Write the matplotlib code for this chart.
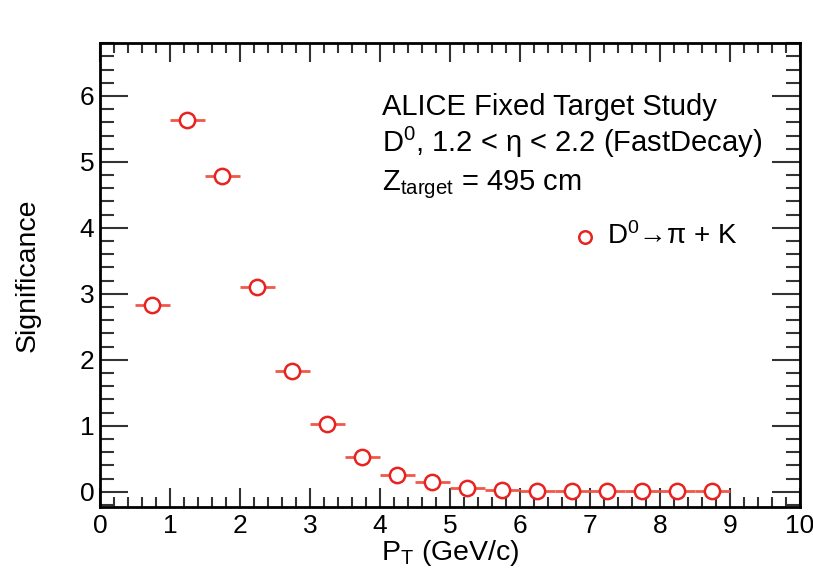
import numpy as np
import matplotlib
matplotlib.use('Agg')
import matplotlib.pyplot as plt
from matplotlib.ticker import MultipleLocator

plt.rcParams['font.family'] = ['Liberation Sans', 'DejaVu Sans']
plt.rcParams['mathtext.fontset'] = 'custom'
plt.rcParams['mathtext.rm'] = 'Liberation Sans'
plt.rcParams['mathtext.it'] = 'Liberation Sans'

# pT bin centres and half widths
pt = [0.75, 1.25, 1.75, 2.25, 2.75, 3.25, 3.75, 4.25, 4.75,
      5.25, 5.75, 6.25, 6.75, 7.25, 7.75, 8.25, 8.75]
pt_err = [0.25] * len(pt)
# significance per bin
signif = [2.83, 5.64, 4.79, 3.11, 1.83, 1.02, 0.53, 0.26, 0.14,
          0.06, 0.03, 0.01, 0.01, 0.01, 0.01, 0.01, 0.01]

red = '#e8231f'

fig = plt.figure(figsize=(8.13, 5.76), dpi=100)
ax = fig.add_axes([0.123, 0.12, 0.861, 0.805])

ax.errorbar(pt, signif, xerr=pt_err, fmt='none', ecolor='#f0584a', elinewidth=2, zorder=2)
ax.plot(pt, signif, 'o', ms=11, mfc='white', mec=red, mew=1.8, zorder=3)

ax.set_xlim(0, 10)
ax.set_ylim(-0.23, 6.8)

ax.xaxis.set_major_locator(MultipleLocator(1))
ax.xaxis.set_minor_locator(MultipleLocator(0.2))
ax.yaxis.set_major_locator(MultipleLocator(1))
ax.yaxis.set_minor_locator(MultipleLocator(0.2))
ax.tick_params(which='both', direction='in', top=True, right=True,
               labelsize=19, width=1.5, color='#333333')
ax.tick_params(axis='x', which='major', length=14, pad=5)
ax.tick_params(axis='x', which='minor', length=7)
ax.tick_params(axis='y', which='major', length=20, pad=4)
ax.tick_params(axis='y', which='minor', length=10)
for s in ax.spines.values():
    s.set_linewidth(2)

ax.set_xlabel(r'P$_\mathrm{T}$ (GeV/c)', fontsize=20.5, labelpad=0)
ax.set_ylabel('Significance', fontsize=20.5)
ax.yaxis.set_label_coords(-0.085, 0.5)

fs = 21
ax.text(0.403, 0.845, 'ALICE Fixed Target Study', transform=ax.transAxes, fontsize=fs)
ax.text(0.403, 0.765, r'D$^\mathrm{0}$, 1.2 < η < 2.2 (FastDecay)',
        transform=ax.transAxes, fontsize=fs)
ax.text(0.403, 0.682, r'Z$_\mathrm{target}$ = 495 cm', transform=ax.transAxes, fontsize=fs)

ax.plot([0.693], [0.582], 'o', ms=9, mfc='white', mec=red, mew=1.8, transform=ax.transAxes,
        clip_on=False)
ax.text(0.724, 0.566, r'D$^\mathrm{0}$→π + K', transform=ax.transAxes, fontsize=20)

fig.savefig('out.png', dpi=100, facecolor='white')
